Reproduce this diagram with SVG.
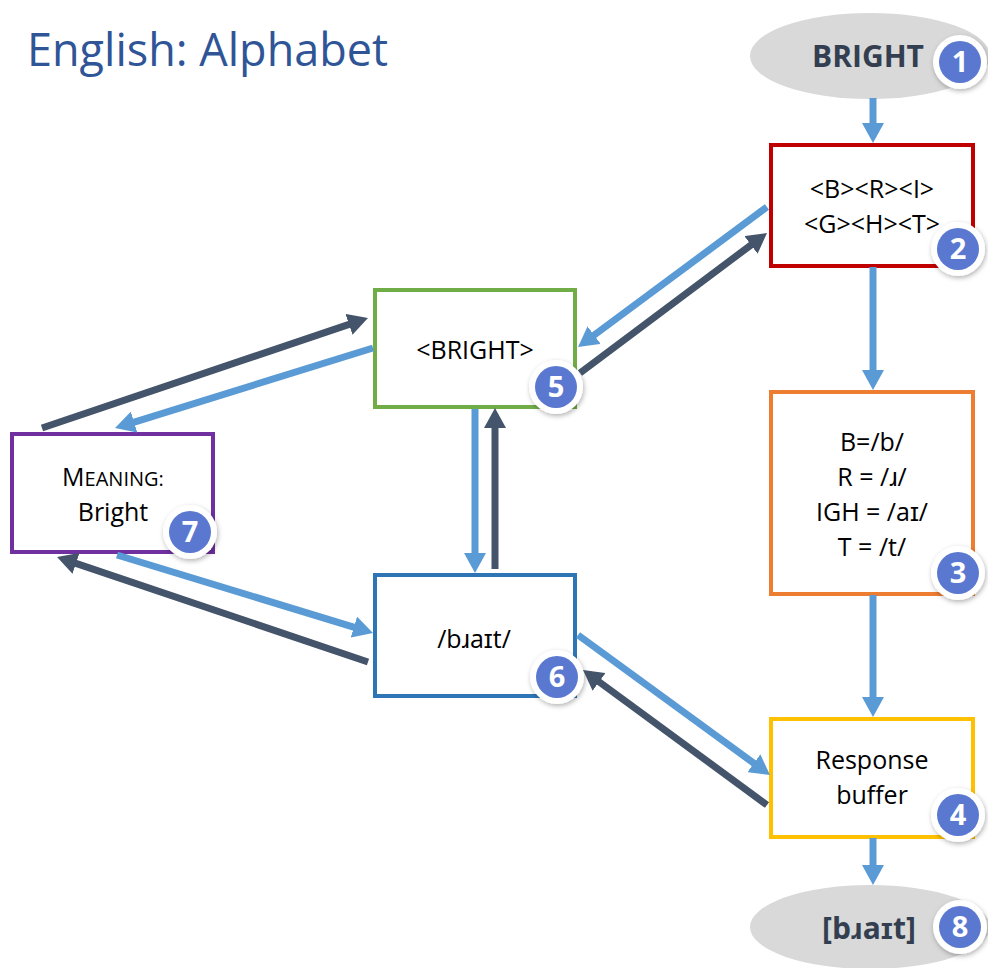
<svg xmlns="http://www.w3.org/2000/svg" width="988" height="968" viewBox="0 0 988 968">
<style>
  .t{font-family:"Open Sans","Liberation Sans",sans-serif;font-size:25px;fill:#000;text-anchor:middle}
  .box{fill:#fff;stroke-width:4}
  .ell{fill:#d9d9d9}
  .et{font-family:"Open Sans","Liberation Sans",sans-serif;font-weight:bold;font-size:30px;fill:#333f50;text-anchor:middle}
  .lb{stroke:#5b9bd5;stroke-width:7;fill:none}
  .dk{stroke:#44546a;stroke-width:7;fill:none}
  .bw{fill:#fff;filter:url(#sh)}
  .bb{fill:#5a78d0}
  .bn{font-family:"Open Sans","Liberation Sans",sans-serif;font-weight:bold;font-size:29px;fill:#fff;text-anchor:middle}
</style>
<defs>
  <marker id="aL" viewBox="0 0 20 22" refX="4" refY="11" markerWidth="20" markerHeight="22" markerUnits="userSpaceOnUse" orient="auto">
    <path d="M0,0 L20,11 L0,22 z" fill="#5b9bd5"/>
  </marker>
  <marker id="aD" viewBox="0 0 20 22" refX="4" refY="11" markerWidth="20" markerHeight="22" markerUnits="userSpaceOnUse" orient="auto">
    <path d="M0,0 L20,11 L0,22 z" fill="#44546a"/>
  </marker>
  <filter id="sh" x="-30%" y="-30%" width="160%" height="160%">
    <feDropShadow dx="1" dy="2" stdDeviation="2.5" flood-color="#000" flood-opacity="0.3"/>
  </filter>
</defs>
<rect width="988" height="968" fill="#fff"/>
<text x="27" y="66" font-family="'Open Sans','Liberation Sans',sans-serif" font-size="45" fill="#2f5597">English: Alphabet</text>

<g id="n1">
  <ellipse class="ell" cx="870" cy="56" rx="120" ry="43"/>
  <text class="et" x="868" y="67">BRIGHT</text>
</g>
<g id="n2">
  <rect class="box" x="771" y="145" width="202" height="121" stroke="#c00000"/>
  <text class="t" x="872" y="198">&lt;B&gt;&lt;R&gt;&lt;I&gt;</text>
  <text class="t" x="872" y="233">&lt;G&gt;&lt;H&gt;&lt;T&gt;</text>
</g>
<g id="n3">
  <rect class="box" x="771" y="392" width="202" height="202" stroke="#ed7d31"/>
  <text class="t" x="872" y="451">B=/b/</text>
  <text class="t" x="872" y="486">R = /ɹ/</text>
  <text class="t" x="872" y="521">IGH = /aɪ/</text>
  <text class="t" x="872" y="556">T = /t/</text>
</g>
<g id="n4">
  <rect class="box" x="771" y="719" width="202" height="118" stroke="#ffc000"/>
  <text class="t" x="872" y="769">Response</text>
  <text class="t" x="872" y="804">buffer</text>
</g>
<g id="n5">
  <rect class="box" x="375" y="290" width="200" height="117" stroke="#70ad47"/>
  <text class="t" x="475" y="359">&lt;BRIGHT&gt;</text>
</g>
<g id="n6">
  <rect class="box" x="375" y="575" width="200" height="121" stroke="#2e75b6"/>
  <text class="t" x="474" y="648">/bɹaɪt/</text>
</g>
<g id="n7">
  <rect class="box" x="12" y="434" width="201" height="118" stroke="#7030a0"/>
  <text class="t" x="113" y="486">M<tspan font-size="20">EANING:</tspan></text>
  <text class="t" x="113" y="521">Bright</text>
</g>
<g id="n8">
  <ellipse class="ell" cx="870" cy="927" rx="120" ry="42"/>
  <text class="et" x="869" y="939">[bɹaɪt]</text>
</g>

<g id="badges">
  <g id="b1"><circle class="bw" cx="960" cy="62" r="27"/><circle class="bb" cx="960" cy="62" r="21"/><text class="bn" x="960" y="72">1</text></g>
  <g id="b2"><circle class="bw" cx="958" cy="249" r="27"/><circle class="bb" cx="958" cy="249" r="21"/><text class="bn" x="958" y="259">2</text></g>
  <g id="b3"><circle class="bw" cx="958" cy="573" r="27"/><circle class="bb" cx="958" cy="573" r="21"/><text class="bn" x="958" y="583">3</text></g>
  <g id="b4"><circle class="bw" cx="958" cy="815" r="27"/><circle class="bb" cx="958" cy="815" r="21"/><text class="bn" x="958" y="825">4</text></g>
  <g id="b5"><circle class="bw" cx="556" cy="387" r="27"/><circle class="bb" cx="556" cy="387" r="21"/><text class="bn" x="556" y="397">5</text></g>
  <g id="b6"><circle class="bw" cx="557" cy="677" r="27"/><circle class="bb" cx="557" cy="677" r="21"/><text class="bn" x="557" y="687">6</text></g>
  <g id="b7"><circle class="bw" cx="190" cy="532" r="27"/><circle class="bb" cx="190" cy="532" r="21"/><text class="bn" x="190" y="542">7</text></g>
  <g id="b8"><circle class="bw" cx="960" cy="927" r="27"/><circle class="bb" cx="960" cy="927" r="21"/><text class="bn" x="960" y="937">8</text></g>
</g>

<g id="connectors">
  <line class="lb" x1="873" y1="98" x2="873" y2="127" marker-end="url(#aL)"/>
  <line class="lb" x1="873" y1="267" x2="873" y2="374" marker-end="url(#aL)"/>
  <line class="lb" x1="873" y1="595" x2="873" y2="701" marker-end="url(#aL)"/>
  <line class="lb" x1="873" y1="838" x2="873" y2="869" marker-end="url(#aL)"/>
  <line class="lb" x1="767" y1="207" x2="590.9" y2="337.5" marker-end="url(#aL)"/>
  <line class="dk" x1="580" y1="373" x2="754.2" y2="242.6" marker-end="url(#aD)"/>
  <line class="dk" x1="42" y1="428" x2="352.8" y2="323.1" marker-end="url(#aD)"/>
  <line class="lb" x1="373" y1="348" x2="130.3" y2="423.3" marker-end="url(#aL)"/>
  <line class="lb" x1="117" y1="555" x2="357.7" y2="628.3" marker-end="url(#aL)"/>
  <line class="dk" x1="368" y1="662" x2="72.2" y2="562.1" marker-end="url(#aD)"/>
  <line class="lb" x1="578" y1="635" x2="757.1" y2="765.6" marker-end="url(#aL)"/>
  <line class="dk" x1="767" y1="805" x2="595.9" y2="679.5" marker-end="url(#aD)"/>
  <line class="lb" x1="475" y1="409" x2="475" y2="557" marker-end="url(#aL)"/>
  <line class="dk" x1="495" y1="569" x2="495" y2="424" marker-end="url(#aD)"/>
</g>
</svg>
